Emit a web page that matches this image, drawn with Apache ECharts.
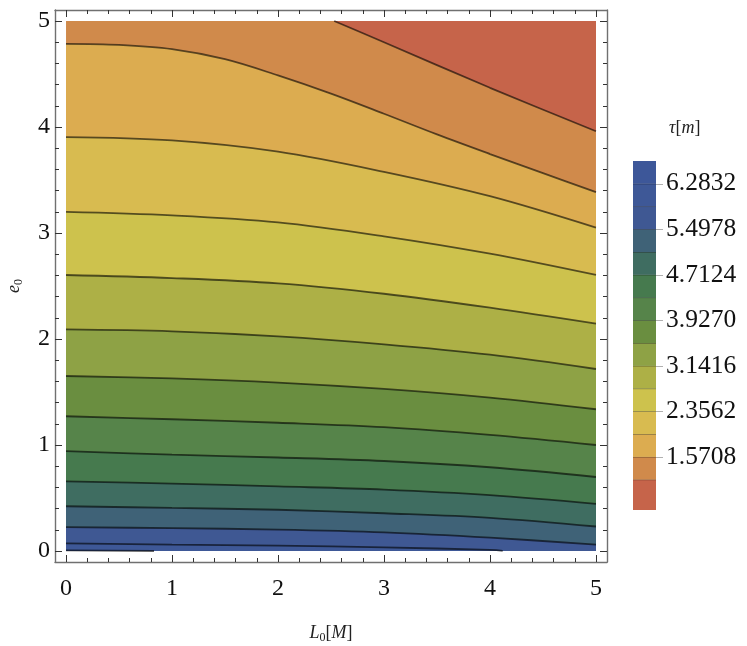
<!DOCTYPE html>
<html>
<head>
<meta charset="utf-8">
<script src="https://cdn.jsdelivr.net/npm/echarts@6/dist/echarts.min.js"></script>
<style>
html,body{margin:0;padding:0;background:#fff;}
#c{width:747px;height:646px;}
</style>
</head>
<body>
<div id="c"></div>
<script>
// ---- data ----
// contour levels (tau values), ascending
const levels = [1.1781, 1.5708, 1.9635, 2.3562, 2.7489, 3.1416, 3.5343, 3.9270, 4.3197, 4.7124, 5.1051, 5.4978, 5.8905, 6.2832];
// colour of each band: band k lies between levels[k-1] and levels[k]
const bandColors = ['#c6644a', '#d08a4b', '#dcac50', '#d8bb50', '#cdc24d', '#adb046', '#8ea245', '#6a8e40', '#56844a', '#467a4e', '#3f6d61', '#3f6277', '#3f5893', '#3e5897', '#3d5799'];
// colour-bar band edges
const cbBounds = [0.655, 1.1781, 1.5708, 1.9635, 2.3562, 2.7489, 3.1416, 3.5343, 3.9270, 4.3197, 4.7124, 5.1051, 5.4978, 5.8905, 6.2832, 6.6759];
const cbTicks = [1.5708, 2.3562, 3.1416, 3.9270, 4.7124, 5.4978, 6.2832];
// contour lines: [L0, e0] points
const c1 = [[2.53, 5.0], [3, 4.80], [4, 4.37], [5, 3.96]];
const c2 = [[0, 4.785], [0.5, 4.775], [1, 4.735], [1.5, 4.64], [2, 4.487], [2.5, 4.315], [3, 4.125], [3.5, 3.93], [4, 3.745], [4.5, 3.565], [5, 3.385]];
const c3 = [[0, 3.905], [1, 3.874], [2, 3.768], [3, 3.577], [4, 3.347], [5, 3.05]];
const c4 = [[0, 3.20], [1, 3.167], [2, 3.101], [3, 2.969], [4, 2.805], [5, 2.604]];
const c5 = [[0, 2.604], [1, 2.575], [2, 2.525], [3, 2.427], [4, 2.295], [5, 2.144]];
const c6 = [[0, 2.09], [1, 2.072], [2, 2.025], [3, 1.95], [4, 1.852], [5, 1.717]];
const c7 = [[0, 1.651], [1, 1.628], [2, 1.589], [3, 1.529], [4, 1.447], [5, 1.337]];
const c8 = [[0, 1.271], [1, 1.243], [2, 1.21], [3, 1.168], [4, 1.095], [5, 1.0]];
const c9 = [[0, 0.943], [1, 0.909], [2, 0.882], [3, 0.849], [4, 0.79], [5, 0.698]];
const c10 = [[0, 0.657], [1, 0.636], [2, 0.609], [3, 0.579], [4, 0.527], [5, 0.445]];
const c11 = [[0, 0.422], [1, 0.406], [2, 0.389], [3, 0.356], [4, 0.313], [5, 0.231]];
const c12 = [[0, 0.225], [1, 0.215], [2, 0.202], [3, 0.176], [4, 0.126], [5, 0.06]];
const c13 = [[0, 0.072], [1, 0.06], [2, 0.05], [3, 0.034], [4, 0.01], [4.12, 0.0]];
const c14 = [[0, 0.006], [0.83, 0.0]];
const contours = [c1, c2, c3, c4, c5, c6, c7, c8, c9, c10, c11, c12, c13, c14];
const plotTop = [[0, 5], [5, 5]];
const majorTicks = [0, 1, 2, 3, 4, 5];
const tickLabels = ['0', '1', '2', '3', '4', '5'];

// ---- chart ----
const minorTicks = [];
for (let i = 1; i < 25; i++) { if (i % 5 !== 0) minorTicks.push(i / 5); }
const FONT = 'Liberation Serif';
const lineCol = 'rgba(0,0,0,0.6)';
const frameCol = '#707070';
const tickCol = '#333';
const AX = { min: -0.104, max: 5.104 };

function mainAxis(pos, isMajor, showLabel, extra) {
  return Object.assign({
    type: 'value', gridIndex: 0, position: pos, min: AX.min, max: AX.max,
    axisLine: { show: isMajor, onZero: false, lineStyle: { color: frameCol, width: 1.4 } },
    axisTick: { show: true, inside: true, length: isMajor ? 7 : 4, customValues: isMajor ? majorTicks : minorTicks, lineStyle: { color: tickCol, width: 1 } },
    axisLabel: { show: showLabel, customValues: majorTicks, formatter: v => tickLabels[majorTicks.indexOf(Math.round(v))], fontFamily: FONT, fontSize: 24, color: '#111' },
    splitLine: { show: false }, z: 20
  }, extra || {});
}

const series = [];
// full region of the band between level 0 and level 1
series.push({
  type: 'line', xAxisIndex: 0, yAxisIndex: 0, data: plotTop, symbol: 'none',
  lineStyle: { width: 0 }, areaStyle: { color: bandColors[1], opacity: 1, origin: 0 }, silent: true
});
// red region above contour 1
series.push({
  type: 'line', xAxisIndex: 0, yAxisIndex: 0, data: c1, symbol: 'none', smooth: 0.3,
  lineStyle: { color: lineCol, width: 1.8 }, areaStyle: { color: bandColors[0], opacity: 1, origin: 5 }, silent: true
});
for (let k = 1; k < contours.length; k++) {
  series.push({
    type: 'line', xAxisIndex: 0, yAxisIndex: 0, data: contours[k], symbol: 'none', smooth: 0.35,
    lineStyle: { color: lineCol, width: 1.8 }, areaStyle: { color: bandColors[k + 1], opacity: 1, origin: 0 }, silent: true
  });
}
// colour bar
const cbData = [];
for (let i = 0; i < bandColors.length; i++) cbData.push([cbBounds[i], cbBounds[i + 1], i]);
series.push({
  type: 'custom', xAxisIndex: 4, yAxisIndex: 4, data: cbData, silent: true,
  encode: { y: [0, 1] },
  renderItem: function (params, api) {
    const lo = api.value(0), hi = api.value(1), idx = api.value(2);
    const p0 = api.coord([0, lo]), p1 = api.coord([1, hi]);
    const children = [{
      type: 'rect', shape: { x: p0[0], y: p1[1], width: p1[0] - p0[0], height: p0[1] - p1[1] },
      style: { fill: bandColors[idx], stroke: null }
    }];
    if (idx < bandColors.length - 1) {
      children.push({ type: 'line', shape: { x1: p0[0], y1: p1[1], x2: p1[0], y2: p1[1] }, style: { stroke: 'rgba(0,0,0,0.55)', lineWidth: 1 } });
    }
    return { type: 'group', children: children };
  }
});

const nameRich = {
  i: { fontFamily: FONT, fontStyle: 'italic', fontSize: 18, color: '#222' },
  s: { fontFamily: FONT, fontSize: 12, color: '#222', padding: [9, 0, 0, 0] }
};

const option = {
  animation: false,
  backgroundColor: '#fff',
  grid: [
    { left: 55, top: 10, width: 552, height: 552, outerBoundsMode: 'none', containLabel: false },
    { left: 633, top: 161, width: 23, height: 349, outerBoundsMode: 'none', containLabel: false }
  ],
  xAxis: [
    mainAxis('bottom', true, true, {
      name: '{i|L}{s|0}[{i|M}]', nameLocation: 'middle', nameGap: 61,
      nameTextStyle: { fontFamily: FONT, fontSize: 18, color: '#222', rich: nameRich },
      axisLabel: { show: true, customValues: majorTicks, formatter: v => tickLabels[majorTicks.indexOf(Math.round(v))], fontFamily: FONT, fontSize: 24, color: '#111', margin: 15 }
    }),
    mainAxis('top', true, false),
    mainAxis('bottom', false, false),
    mainAxis('top', false, false),
    { type: 'value', gridIndex: 1, min: 0, max: 1, show: false }
  ],
  yAxis: [
    mainAxis('left', true, true, {
      name: '{i|e}{s|0}', nameLocation: 'middle', nameGap: 30, nameRotate: 90,
      nameTextStyle: { fontFamily: FONT, fontSize: 18, color: '#222', rich: nameRich },
      axisLabel: { show: true, customValues: majorTicks, formatter: v => tickLabels[majorTicks.indexOf(Math.round(v))], fontFamily: FONT, fontSize: 24, color: '#111', margin: 5 }
    }),
    mainAxis('right', true, false),
    mainAxis('left', false, false),
    mainAxis('right', false, false),
    {
      type: 'value', gridIndex: 1, position: 'right', min: cbBounds[0], max: cbBounds[cbBounds.length - 1],
      axisLine: { show: false, onZero: false },
      axisTick: { show: true, inside: false, length: 7, customValues: cbTicks, lineStyle: { color: '#b0b0b0', width: 1 } },
      axisLabel: { show: true, customValues: cbTicks, formatter: v => v.toFixed(4), fontFamily: FONT, fontSize: 25.5, color: '#111', margin: 10 },
      splitLine: { show: false }
    }
  ],
  graphic: [{
    type: 'text', left: 669, top: 119, silent: true,
    style: { text: '{i|τ}[{i|m}]', fontFamily: FONT, fontSize: 18, fill: '#222', rich: { i: { fontFamily: FONT, fontStyle: 'italic', fontSize: 18, fill: '#222' } } }
  }],
  series: series
};
const chart = echarts.init(document.getElementById('c'), null, { renderer: 'canvas' });
chart.setOption(option);
</script>
</body>
</html>
